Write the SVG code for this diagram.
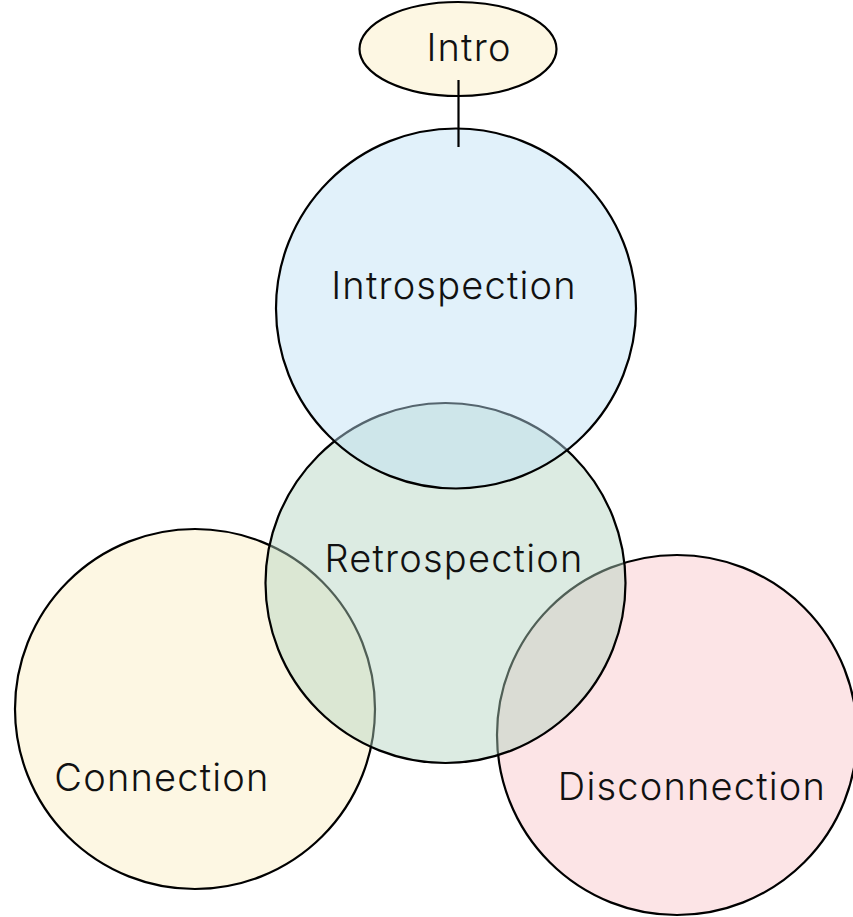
<svg xmlns="http://www.w3.org/2000/svg" width="853" height="917" viewBox="0 0 853 917">
<style>
.c{stroke:#000;stroke-width:2.2}
.t{font-family:Inter,"Noto Sans",sans-serif;font-size:38px;font-weight:300;letter-spacing:1.2px;fill:#111;text-anchor:middle}
</style>
<rect width="853" height="917" fill="#fff"/>
<g id="connection"><circle class="c" cx="195" cy="709" r="180" fill="#fdf7e3"/></g>
<g id="disconnection"><circle class="c" cx="677" cy="735" r="180" fill="#fce4e6"/></g>
<g id="retrospection"><circle class="c" cx="445.5" cy="583" r="180" fill="#b1d2bf" fill-opacity="0.45"/></g>
<g id="introspection"><circle class="c" cx="456" cy="308.5" r="180" fill="#bce0f4" fill-opacity="0.45"/></g>
<g id="intro"><ellipse class="c" cx="458" cy="49" rx="98.5" ry="47" fill="#fdf7e3"/></g>
<g id="connectors"><line x1="458.5" y1="80" x2="458.5" y2="147" stroke="#000" stroke-width="2.2"/></g>
<g id="labels">
<text class="t" x="469" y="61">Intro</text>
<text class="t" x="454" y="299">Introspection</text>
<text class="t" x="454" y="572">Retrospection</text>
<text class="t" x="162" y="791">Connection</text>
<text class="t" x="692" y="800">Disconnection</text>
</g>
</svg>
